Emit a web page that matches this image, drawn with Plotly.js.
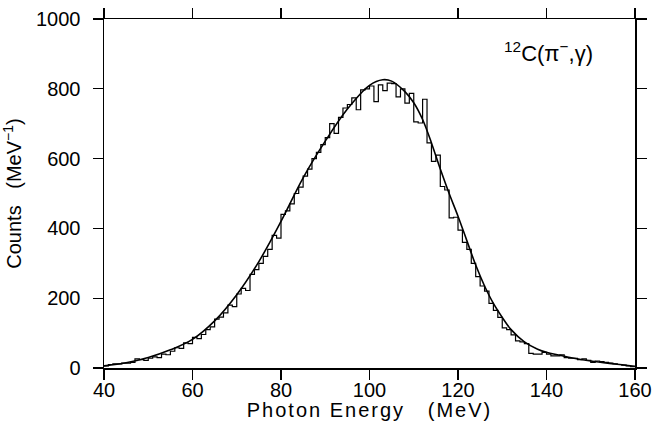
<!DOCTYPE html>
<html>
<head>
<meta charset="utf-8">
<script src="https://cdn.plot.ly/plotly-3.0.1.min.js"></script>
<style>
html,body{margin:0;padding:0;background:#fff;}
#chart{width:652px;height:421px;}
.g-x2title text{letter-spacing:2px;}
</style>
</head>
<body>
<div id="chart"></div>
<script>
// Histogram: 1 MeV bins, left edges 40..159
const binStart = 40;
const binWidth = 1;
const counts = [
  6, 10, 12, 12, 14, 14, 16, 26, 24, 22,
  28, 32, 30, 40, 38, 48, 58, 56, 72, 70,
  88, 84, 96, 110, 118, 140, 146, 158, 180, 176,
  212, 228, 222, 268, 282, 300, 320, 340, 380, 372,
  440, 450, 470, 500, 518, 550, 570, 600, 618, 640,
  660, 700, 672, 718, 745, 755, 774, 740, 797, 800,
  808, 763, 811, 795, 816, 815, 777, 800, 759, 787,
  705, 702, 770, 645, 592, 610, 520, 510, 430, 432,
  395, 360, 340, 300, 262, 235, 220, 185, 165, 145,
  115, 110, 95, 78, 75, 70, 42, 40, 40, 45,
  40, 35, 35, 38, 30, 28, 28, 24, 26, 22,
  16, 20, 18, 16, 14, 12, 10, 8, 6, 4
];
// Fitted line shape
const fitE = [40, 45, 50, 55, 60, 65, 70, 75, 80, 85, 90, 95, 100, 103, 105, 108, 110, 112, 114, 116, 118, 120, 122, 124, 126, 128, 130, 132, 135, 138, 140, 145, 150, 155, 160];
const fitY = [6, 15, 30, 52, 82, 135, 210, 305, 420, 545, 650, 742, 810, 826, 822, 792, 760, 712, 645, 570, 500, 435, 365, 295, 235, 185, 145, 110, 75, 54, 45, 31, 20, 12, 5];

const xTicks = [40, 60, 80, 100, 120, 140, 160];
const yTicks = [0, 200, 400, 600, 800, 1000];
const xRange = [40, 160];
const yRange = [0, 1000];

const histX = [], histY = [];
counts.forEach((c, i) => { histX.push(binStart + i * binWidth); histY.push(c); });
histX.push(binStart + counts.length * binWidth); histY.push(counts[counts.length - 1]);

const fam = 'Liberation Sans, Arial, sans-serif';
const font = {family: fam, color: '#000', size: 20};

const traces = [
  {x: histX, y: histY, xaxis: 'x', yaxis: 'y', mode: 'lines', line: {shape: 'hv', color: '#000', width: 1.2}, hoverinfo: 'skip'},
  {x: fitE, y: fitY, xaxis: 'x2', yaxis: 'y', mode: 'lines', line: {shape: 'spline', smoothing: 1, color: '#000', width: 1.6}, hoverinfo: 'skip'}
];

const layout = {
  width: 652, height: 421,
  margin: {l: 104, r: 17, t: 19, b: 53},
  paper_bgcolor: '#fff', plot_bgcolor: '#fff',
  showlegend: false,
  font: font,
  // frame + long ticks, no labels
  xaxis: {
    range: xRange, tickvals: xTicks, showticklabels: false,
    showgrid: false, zeroline: false, showline: true, linecolor: '#000', linewidth: 1.5,
    ticks: 'outside', ticklen: 10, tickwidth: 1.3, tickcolor: '#000', mirror: 'ticks', automargin: false
  },
  // labels + title
  xaxis2: {
    overlaying: 'x', side: 'bottom', range: xRange, tickvals: xTicks, ticktext: xTicks.map(String),
    showgrid: false, zeroline: false, showline: false, ticks: '', tickfont: font,
    ticklabelstandoff: 8, automargin: false,
    title: {text: 'Photon Energy\u00a0\u00a0\u00a0(MeV)', font: font, standoff: 0}
  },
  yaxis: {
    range: yRange, tickvals: yTicks, ticktext: yTicks.map(String),
    showgrid: false, zeroline: false, showline: true, linecolor: '#000', linewidth: 1.5,
    ticks: 'outside', ticklen: 10, tickwidth: 1.3, tickcolor: '#000', mirror: 'ticks',
    tickfont: font, automargin: false, ticklabelstandoff: 8,
    title: {text: 'Counts\u00a0\u00a0\u00a0(MeV<sup>−1</sup>)', font: font, standoff: 14}
  },
  annotations: [{
    xref: 'paper', yref: 'paper', x: 0.838, y: 0.905, xanchor: 'center', yanchor: 'middle',
    text: '<sup>12</sup>C(π<sup>−</sup>,γ)', showarrow: false, font: {family: fam, size: 22, color: '#000'}
  }]
};

Plotly.newPlot('chart', traces, layout, {displayModeBar: false, staticPlot: true});
</script>
</body>
</html>
